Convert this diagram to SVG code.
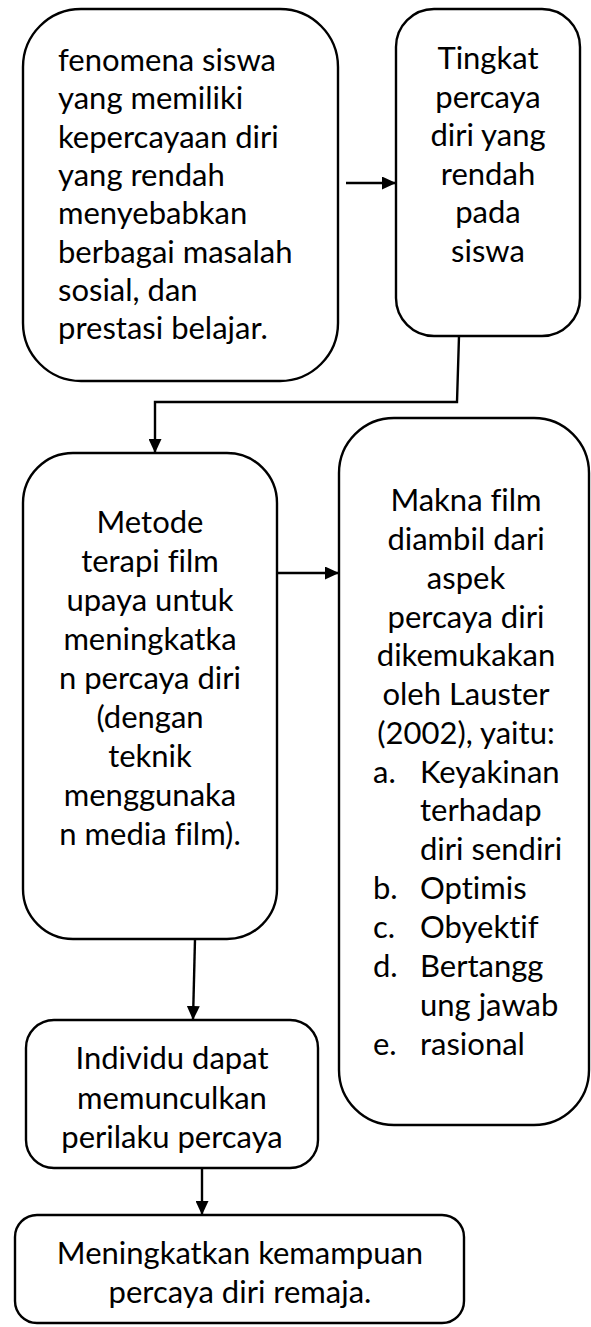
<svg xmlns="http://www.w3.org/2000/svg" width="591" height="1327" viewBox="0 0 591 1327">
<style>
.box{fill:#fff;stroke:#000;stroke-width:2.4}
.t{font-family:Lato,"Open Sans","Liberation Sans",sans-serif;font-size:31px;fill:#000;font-variant-ligatures:none}
.c{text-anchor:middle}
.ln{fill:none;stroke:#000;stroke-width:2.4}
</style>
<defs>
<marker id="ah" markerUnits="userSpaceOnUse" viewBox="0 0 14 13" markerWidth="14" markerHeight="13" refX="14" refY="6.5" orient="auto">
<path d="M0,0 L14,6.5 L0,13 z" fill="#000"/>
</marker>
</defs>
<rect width="591" height="1327" fill="#fff"/>
<g id="connectors">
<line class="ln" x1="346" y1="183" x2="396" y2="183" marker-end="url(#ah)"/>
<polyline class="ln" points="459,336 457,402 155,402 155,453" marker-end="url(#ah)"/>
<line class="ln" x1="277" y1="573" x2="339" y2="573" marker-end="url(#ah)"/>
<line class="ln" x1="195" y1="939" x2="193" y2="1020" marker-end="url(#ah)"/>
<line class="ln" x1="202" y1="1168" x2="202" y2="1215" marker-end="url(#ah)"/>
</g>
<g id="n1">
<rect class="box" x="23" y="9" width="315" height="372" rx="58"/>
<text class="t" x="58" y="71">fenomena siswa</text>
<text class="t" x="58" y="109">yang memiliki</text>
<text class="t" x="58" y="148">kepercayaan diri</text>
<text class="t" x="58" y="186">yang rendah</text>
<text class="t" x="58" y="224">menyebabkan</text>
<text class="t" x="58" y="263">berbagai masalah</text>
<text class="t" x="58" y="301">sosial, dan</text>
<text class="t" x="58" y="339">prestasi belajar.</text>
</g>
<g id="n2">
<rect class="box" x="396" y="9" width="184" height="327" rx="38"/>
<text class="t c" x="488" y="69">Tingkat</text>
<text class="t c" x="488" y="108">percaya</text>
<text class="t c" x="488" y="146">diri yang</text>
<text class="t c" x="488" y="185">rendah</text>
<text class="t c" x="488" y="223">pada</text>
<text class="t c" x="488" y="262">siswa</text>
</g>
<g id="n3">
<rect class="box" x="23" y="453" width="254" height="486" rx="50"/>
<text class="t c" x="150" y="533">Metode</text>
<text class="t c" x="150" y="572">terapi film</text>
<text class="t c" x="150" y="611">upaya untuk</text>
<text class="t c" x="150" y="650">meningkatka</text>
<text class="t c" x="150" y="689">n percaya diri</text>
<text class="t c" x="150" y="728">(dengan</text>
<text class="t c" x="150" y="767">teknik</text>
<text class="t c" x="150" y="806">menggunaka</text>
<text class="t c" x="150" y="845">n media film).</text>
</g>
<g id="n4">
<rect class="box" x="339" y="418" width="250" height="707" rx="55"/>
<text class="t c" x="466" y="511">Makna film</text>
<text class="t c" x="466" y="550">diambil dari</text>
<text class="t c" x="466" y="589">aspek</text>
<text class="t c" x="466" y="628">percaya diri</text>
<text class="t c" x="466" y="666">dikemukakan</text>
<text class="t c" x="466" y="705">oleh Lauster</text>
<text class="t c" x="466" y="744">(2002), yaitu:</text>
<text class="t" x="373" y="783">a.</text><text class="t" x="420" y="783">Keyakinan</text>
<text class="t" x="420" y="821">terhadap</text>
<text class="t" x="420" y="860">diri sendiri</text>
<text class="t" x="373" y="899">b.</text><text class="t" x="420" y="899">Optimis</text>
<text class="t" x="373" y="938">c.</text><text class="t" x="420" y="938">Obyektif</text>
<text class="t" x="373" y="977">d.</text><text class="t" x="420" y="977">Bertangg</text>
<text class="t" x="420" y="1016">ung jawab</text>
<text class="t" x="373" y="1055">e.</text><text class="t" x="420" y="1055">rasional</text>
</g>
<g id="n5">
<rect class="box" x="26" y="1020" width="292" height="148" rx="28"/>
<text class="t c" x="172" y="1069">Individu dapat</text>
<text class="t c" x="172" y="1109">memunculkan</text>
<text class="t c" x="172" y="1148">perilaku percaya</text>
</g>
<g id="n6">
<rect class="box" x="15" y="1215" width="449" height="108" rx="22"/>
<text class="t c" x="240" y="1264">Meningkatkan kemampuan</text>
<text class="t c" x="240" y="1303">percaya diri remaja.</text>
</g>
</svg>
